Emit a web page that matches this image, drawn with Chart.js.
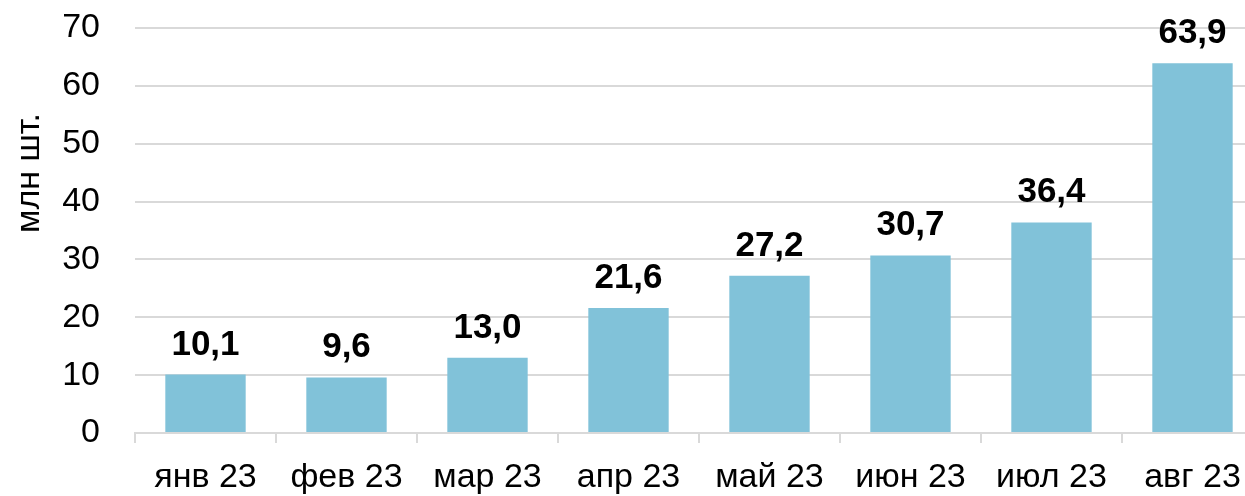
<!DOCTYPE html>
<html>
<head>
<meta charset="utf-8">
<script src="https://cdn.jsdelivr.net/npm/chart.js@4.4.1/dist/chart.umd.min.js"></script>
<style>
    html, body { margin: 0; padding: 0; background: #fff; overflow: hidden; }
    /* the source picture cuts the last category a little on the right */
    #wrap { width: 1245px; height: 496px; overflow: hidden; }
</style>
</head>
<body>
<div id="wrap"><canvas id="barChart" width="1263" height="496"></canvas></div>
<script>
// data
var months = ['янв 23', 'фев 23', 'мар 23', 'апр 23', 'май 23', 'июн 23', 'июл 23', 'авг 23'];
var values = [10.1, 9.6, 13.0, 21.6, 27.2, 30.7, 36.4, 63.9];
var yTicks = [0, 10, 20, 30, 40, 50, 60, 70];
var yTitle = 'млн шт.';

var fontFamily = '"Liberation Sans", Arial, sans-serif';
var gridColor = '#D9D9D9';

// bold value above each bar
var valueLabels = {
    id: 'valueLabels',
    afterDatasetsDraw: function(chart) {
        var ctx = chart.ctx;
        var meta = chart.getDatasetMeta(0);
        ctx.save();
        ctx.font = 'bold 35px ' + fontFamily;
        ctx.fillStyle = '#000';
        ctx.textAlign = 'center';
        ctx.textBaseline = 'alphabetic';
        meta.data.forEach(function(bar, i) {
            var txt = values[i].toFixed(1).replace('.', ',');
            ctx.fillText(txt, bar.x, bar.y - 20);
        });
        ctx.restore();
    }
};

// rotated axis title, sits a bit above the middle like in the source
var axisTitle = {
    id: 'axisTitle',
    afterDraw: function(chart) {
        var ctx = chart.ctx;
        ctx.save();
        ctx.translate(30, 173);
        ctx.rotate(-Math.PI / 2);
        ctx.font = '34px ' + fontFamily;
        ctx.fillStyle = '#000';
        ctx.textAlign = 'center';
        ctx.textBaseline = 'middle';
        ctx.fillText(yTitle, 0, 0);
        ctx.restore();
    }
};

var barChartCanvas = document.getElementById('barChart').getContext('2d');
var barChart = new Chart(barChartCanvas, {
    type: 'bar',
    data: {
        labels: months,
        datasets: [{
            data: values,
            backgroundColor: '#81C2D9',
            borderWidth: 0,
            categoryPercentage: 1.0,
            barPercentage: 0.57
        }]
    },
    options: {
        responsive: false,
        animation: false,
        layout: {
            padding: { top: 28, right: 0, left: 0, bottom: 0 }
        },
        plugins: {
            legend: { display: false },
            tooltip: { enabled: false }
        },
        scales: {
            x: {
                offset: true,
                grid: {
                    offset: true,
                    drawOnChartArea: false,
                    drawTicks: true,
                    tickLength: 10,
                    color: gridColor,
                    lineWidth: 2
                },
                border: { display: true, color: gridColor, width: 2 },
                ticks: {
                    color: '#000',
                    font: { family: fontFamily, size: 34 },
                    padding: 14,
                    maxRotation: 0,
                    autoSkip: false
                },
                afterFit: function(scale) { scale.height = 63; }
            },
            y: {
                min: 0,
                max: 70,
                afterBuildTicks: function(scale) {
                    scale.ticks = yTicks.map(function(v) { return { value: v }; });
                },
                grid: {
                    drawTicks: false,
                    color: gridColor,
                    lineWidth: 2
                },
                border: { display: false },
                ticks: {
                    color: '#000',
                    font: { family: fontFamily, size: 34 },
                    padding: 35
                },
                afterFit: function(scale) {
                    scale.width = 135;
                    scale.paddingTop = 0;
                    scale.paddingBottom = 0;
                }
            }
        }
    },
    plugins: [valueLabels, axisTitle]
});
</script>
</body>
</html>
